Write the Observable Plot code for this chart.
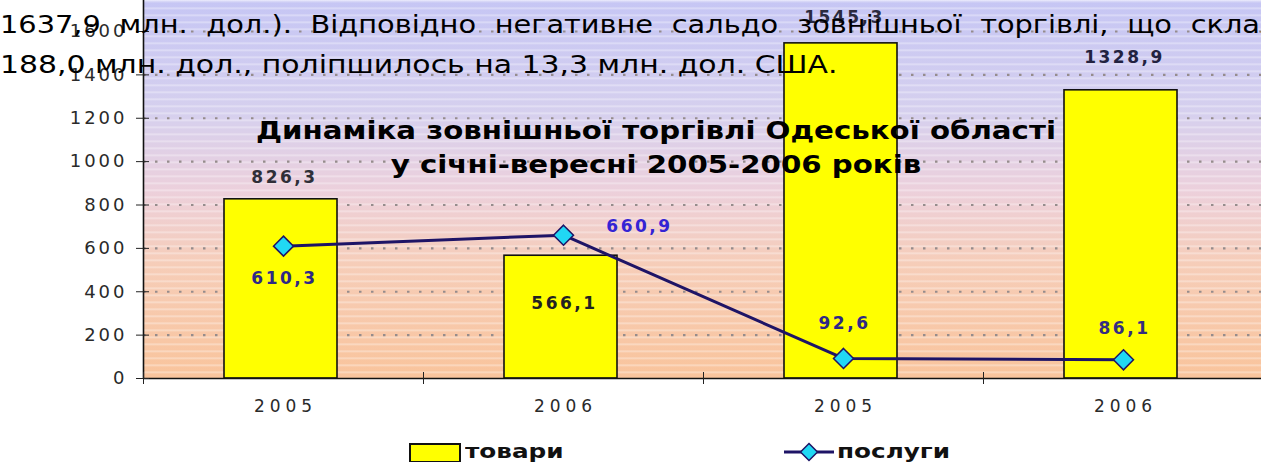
<!DOCTYPE html>
<html><head><meta charset="utf-8">
<script src="https://cdn.jsdelivr.net/npm/d3@7"></script>
<script src="https://cdn.jsdelivr.net/npm/@observablehq/plot@0.6"></script>
<style>
html,body{margin:0;padding:0;background:#fff;overflow:hidden;}
#wrap{position:relative;width:1261px;height:462px;overflow:hidden;}
#chart svg{display:block;overflow:hidden;font-family:"DejaVu Sans",sans-serif;}
#chart g[aria-label="text"] text{letter-spacing:2.5px;}
#chart g[aria-label="y-axis tick label"] text{letter-spacing:3px;fill:#2a2a2a;}
#chart g[aria-label="x-axis tick label"] text{letter-spacing:5px;fill:#2a2a2a;}
.para{position:absolute;left:0;font-family:"DejaVu Sans",sans-serif;font-size:24px;color:#000;white-space:nowrap;line-height:38px;transform-origin:0 0;}
#p1{display:flex;justify-content:space-between;width:1080px;transform:scaleX(1.2);}
#p2{transform:scaleX(1.245);}
.title{position:absolute;left:256px;width:800px;top:114px;text-align:center;font-family:"DejaVu Sans",sans-serif;font-weight:bold;font-size:25px;line-height:34px;color:#000;transform:scaleX(1.17);transform-origin:400px 0;}
.lg{position:absolute;font-family:"DejaVu Sans",sans-serif;font-weight:bold;font-size:19px;color:#111;line-height:22px;transform:scaleX(1.3);transform-origin:0 0;}
</style>
</head><body>
<div id="wrap">
  <div id="chart"></div>
  <div class="title">Динаміка зовнішньої торгівлі Одеської області<br>у січні-вересні 2005-2006 років</div>
  <div class="para" id="p1" style="top:6px;"><span>1637,9</span><span>млн.</span><span>дол.).</span><span>Відповідно</span><span>негативне</span><span>сальдо</span><span>зовнішньої</span><span>торгівлі,</span><span>що</span><span>склало</span></div>
  <div class="para" id="p2" style="top:46px;">188,0 млн. дол., поліпшилось на 13,3 млн. дол. США.</div>
  <div style="position:absolute;left:409px;top:443px;width:48px;height:16px;border:2px solid #111;background:#ffff00;"></div>
  <div class="lg" style="left:465px;top:440px;">товари</div>
  <svg style="position:absolute;left:782px;top:441px;" width="54" height="22"><line x1="2" y1="11" x2="52" y2="11" stroke="#1e1466" stroke-width="3"/><path d="M27,2.5 L35.5,11 L27,19.5 L18.5,11 Z" fill="#20d8f4" stroke="#1e1466" stroke-width="1.5"/></svg>
  <div class="lg" style="left:837px;top:440px;">послуги</div>
</div>
<script>
const years = ["2005", "2006", "2005", "2006"];
const goods = [826.3, 566.1, 1545.3, 1328.9];
const services = [610.3, 660.9, 92.6, 86.1];
const yTicks = [0, 200, 400, 600, 800, 1000, 1200, 1400, 1600];
const seriesNames = ["товари", "послуги"];

const rows = years.map((year, i) => ({i, year, goods: goods[i], services: services[i]}));
const fmt = v => v.toFixed(1).replace(".", ",");
const cx = d => d.i + 0.5;

const goodsLabel = (idx, dy, fill) => Plot.text(rows, {
  filter: d => d.i === idx, x: cx, y: "goods", text: d => fmt(d.goods),
  dx: 1, dy, fill, fontSize: 17, fontWeight: "bold"
});
const servLabel = (idx, dx, dy, fill) => Plot.text(rows, {
  filter: d => d.i === idx, x: cx, y: "services", text: d => fmt(d.services),
  dx: dx + 1, dy, fill, fontSize: 17, fontWeight: "bold"
});

const svg = Plot.plot({
  width: 1261, height: 430,
  marginLeft: 143, marginRight: 0, marginTop: 0, marginBottom: 52,
  style: {background: "transparent", overflow: "hidden"},
  x: {domain: [0, 4], range: [143, 1263]},
  y: {domain: [0, 1600], range: [378, 31]},
  marks: [
    Plot.frame({fill: "url(#bgGrad)", stroke: null}),
    Plot.frame({fill: "url(#bgStripes)", stroke: null}),
    Plot.gridY(yTicks.slice(1), {stroke: "#958c8c", strokeOpacity: 1, strokeWidth: 2.2, strokeDasharray: "2.5,9.5"}),
    Plot.rectY(rows, {x1: d => d.i, x2: d => d.i + 1, y: "goods", fill: "#ffff00", stroke: "#111", strokeWidth: 1.6, insetLeft: 81, insetRight: 86}),
    Plot.ruleY([0], {stroke: "#111", strokeWidth: 1.6}),
    Plot.ruleX([0], {stroke: "#111", strokeWidth: 1.6}),
    Plot.axisY(yTicks, {tickSize: 13, dx: 6, tickPadding: 9, fontSize: 18, color: "#222", label: null, tickFormat: d => String(d)}),
    Plot.axisX([0, 1, 2, 3, 4], {tickSize: 12, dy: -6, color: "#222", label: null, tickFormat: () => ""}),
    Plot.axisX([0.5, 1.5, 2.5, 3.5], {tickSize: 0, tickPadding: 21, dx: 2, fontSize: 17, color: "#333", label: null, tickFormat: d => years[Math.floor(d)]}),
    Plot.line(rows, {x: cx, y: "services", stroke: "#1e1466", strokeWidth: 3}),
    Plot.dot(rows, {x: cx, y: "services", symbol: "diamond2", r: 9, fill: "#20d8f4", stroke: "#1e1466", strokeWidth: 1.5}),
    goodsLabel(0, -22, "#2f2f38"),
    goodsLabel(1, 48, "#222222"),
    goodsLabel(2, -26, "#2a2a40"),
    goodsLabel(3, -33, "#222240"),
    servLabel(0, 0, 32, "#2e2886"),
    servLabel(1, 75, -9, "#3424d4"),
    servLabel(2, 0, -35, "#2e2886"),
    servLabel(3, 0, -31, "#342c80")
  ]
});

const defs = d3.select(svg).insert("defs", ":first-child");
const g = defs.append("linearGradient").attr("id", "bgGrad").attr("x1", 0).attr("y1", 0).attr("x2", 0).attr("y2", 1);
[["0", "#c6c6f4"], ["0.3", "#d6d0ee"], ["0.5", "#ecd0dc"], ["0.7", "#f6cdb8"], ["1", "#f9c49c"]]
  .forEach(([o, c]) => g.append("stop").attr("offset", o).attr("stop-color", c));
const p = defs.append("pattern").attr("id", "bgStripes").attr("patternUnits", "userSpaceOnUse").attr("width", 20).attr("height", 7);
p.append("rect").attr("x", 0).attr("y", 0).attr("width", 20).attr("height", 1.5).attr("fill", "#ffffff").attr("fill-opacity", 0.4);

document.getElementById("chart").appendChild(svg);
</script>
</body></html>
